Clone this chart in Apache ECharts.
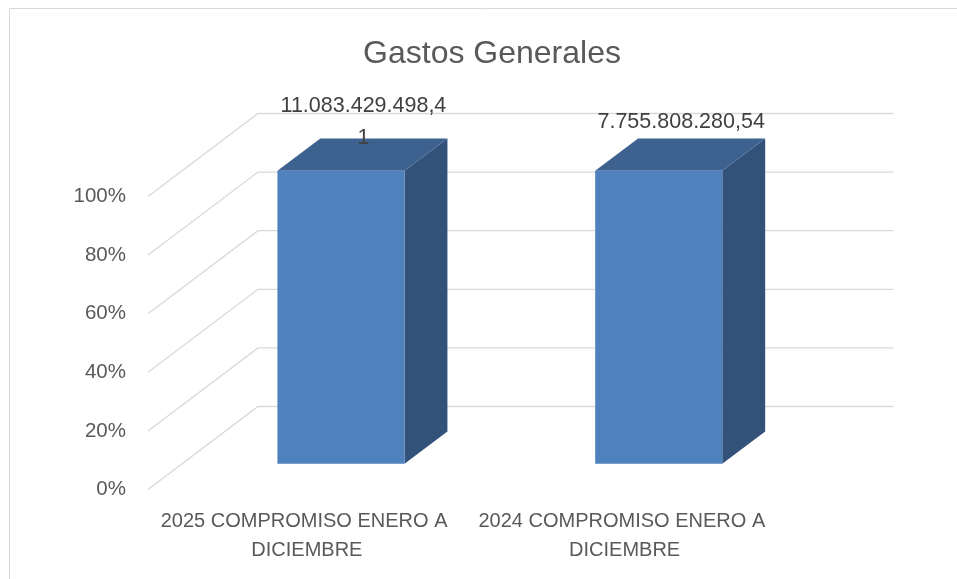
<!DOCTYPE html>
<html>
<head>
<meta charset="utf-8">
<script src="https://cdn.jsdelivr.net/npm/echarts@6/dist/echarts.min.js"></script>
<style>html,body{margin:0;padding:0;background:#fff}#c{width:957px;height:579px}</style>
</head>
<body>
<div id="c"></div>
<script>
var categories = ['2025 COMPROMISO ENERO A DICIEMBRE', '2024 COMPROMISO ENERO A DICIEMBRE'];
var values = [11083429498.41, 7755808280.54];
var yTicks = [0, 0.2, 0.4, 0.6, 0.8, 1];
var titleText = 'Gastos Generales';

// 100% stacked with a single series: each bar is its share of its own category total
var shares = values.map(function (v) { return v / v; });

var FONT = '"Liberation Sans", Arial, sans-serif';
var DX = 110, DY = -83;      // depth offset of the back wall
var D1 = 0.31, D2 = 0.70;    // bar depth span
var FRONT = '#4F81BD', TOP = '#3D6290', SIDE = '#32527A';
var LABEL_CHARS = 16;        // data label box wraps long numbers character-wise

function fmt(v) {
  var parts = v.toFixed(2).split('.');
  return parts[0].replace(/\B(?=(\d{3})+(?!\d))/g, '.') + ',' + parts[1];
}
function wrapChars(s, n) {
  var out = [];
  for (var k = 0; k < s.length; k += n) out.push(s.slice(k, k + n));
  return out.join('\n');
}

var chart = echarts.init(document.getElementById('c'), null, {renderer: 'canvas'});
chart.setOption({
  animation: false,
  backgroundColor: '#fff',
  title: {
    text: titleText, left: 487, top: 33, textAlign: 'center',
    textStyle: {fontFamily: FONT, fontSize: 32, fontWeight: 'normal', color: '#595959'}
  },
  graphic: [{
    type: 'rect', shape: {x: 9.5, y: 8.5, width: 1000, height: 700},
    style: {fill: 'none', stroke: '#d9d9d9', lineWidth: 1}, silent: true, z: -10
  }],
  grid: {left: 148, right: 173.5, top: 196.5, bottom: 89.5},
  xAxis: {
    type: 'category', data: categories,
    axisLine: {show: false}, axisTick: {show: false}, splitLine: {show: false},
    axisLabel: {
      interval: 0, margin: 17, width: 305, overflow: 'break', lineHeight: 29,
      fontFamily: FONT, fontSize: 20, color: '#595959'
    }
  },
  yAxis: {
    type: 'value', min: 0, max: 1, interval: 0.2,
    axisLine: {show: false}, axisTick: {show: false}, splitLine: {show: false},
    axisLabel: {
      margin: 22, fontFamily: FONT, fontSize: 20.5, color: '#595959',
      formatter: function (v) { return Math.round(v * 100) + '%'; }
    }
  },
  series: [{
    type: 'custom', silent: true, z: 1,
    data: yTicks.map(function (t) { return [0, t]; }),
    encode: {x: 0, y: 1},
    renderItem: function (params, api) {
      var cs = params.coordSys;
      var y = api.coord([0, api.value(1)])[1];
      var x0 = cs.x, x1 = cs.x + cs.width;
      return {
        type: 'polyline',
        shape: {points: [[x0, y], [x0 + DX, y + DY], [x1 + DX, y + DY]]},
        style: {stroke: '#d9d9d9', lineWidth: 1.3, fill: null}
      };
    }
  }, {
    type: 'custom', silent: true, z: 2,
    data: categories.map(function (c, i) { return [i, shares[i], values[i]]; }),
    encode: {x: 0, y: 1},
    renderItem: function (params, api) {
      var i = api.value(0);
      var base = api.coord([i, 0]);
      var top = api.coord([i, api.value(1)]);
      var bw = api.size([1, 0])[0] * 0.4;
      var fx0 = base[0] - bw / 2 + DX * D1, fx1 = base[0] + bw / 2 + DX * D1;
      var fyB = base[1] + DY * D1, fyT = top[1] + DY * D1;
      var ddx = DX * (D2 - D1), ddy = DY * (D2 - D1);
      var lx = base[0] + DX * (D1 + D2) / 2 + 1;
      var ly = top[1] + DY * D2 - 16;
      return {
        type: 'group',
        children: [
          {type: 'polygon', shape: {points: [[fx1, fyT], [fx1 + ddx, fyT + ddy], [fx1 + ddx, fyB + ddy], [fx1, fyB]]},
           style: {fill: SIDE}},
          {type: 'polygon', shape: {points: [[fx0, fyT], [fx0 + ddx, fyT + ddy], [fx1 + ddx, fyT + ddy], [fx1, fyT]]},
           style: {fill: TOP}},
          {type: 'rect', shape: {x: fx0, y: fyT, width: fx1 - fx0, height: fyB - fyT},
           style: {fill: FRONT}},
          {type: 'text', x: lx, y: ly,
           style: {text: wrapChars(fmt(api.value(2)), LABEL_CHARS), lineHeight: 32,
                   align: 'center', verticalAlign: 'middle',
                   font: '21.5px ' + FONT, fill: '#404040'}}
        ]
      };
    }
  }]
});
</script>
</body>
</html>
